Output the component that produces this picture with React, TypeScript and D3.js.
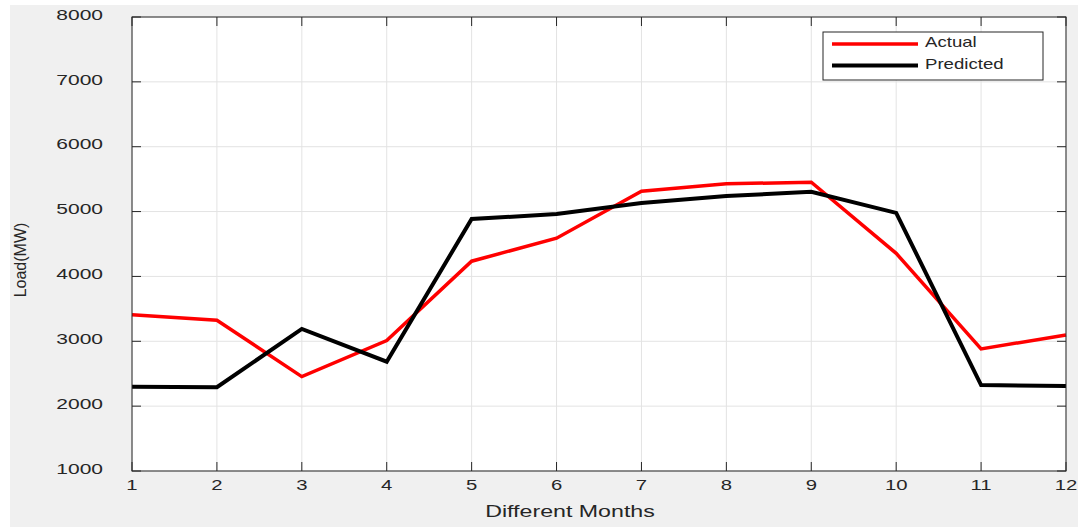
import React from "react";
import * as d3 from "d3";

const months = [1, 2, 3, 4, 5, 6, 7, 8, 9, 10, 11, 12];
const actual = [3410, 3325, 2455, 3012, 4235, 4590, 5315, 5428, 5452, 4356, 2882, 3098];
const predicted = [2300, 2292, 3190, 2685, 4885, 4962, 5132, 5240, 5305, 4980, 2325, 2310];
const yTicks = [1000, 2000, 3000, 4000, 5000, 6000, 7000, 8000];
const seriesNames = ["Actual", "Predicted"];
const seriesColors = ["#ff0000", "#000000"];

const font = "'Liberation Sans', Arial, Helvetica, sans-serif";
const txt = "#262626";

function SText(props: { x: number; y: number; sx: number; size: number; anchor?: string; children: React.ReactNode }) {
  return (
    <text
      transform={`translate(${props.x},${props.y}) scale(${props.sx},1)`}
      fontFamily={font}
      fontSize={props.size}
      fill={txt}
      textAnchor={props.anchor || "start"}
      dominantBaseline="central"
    >
      {props.children}
    </text>
  );
}

export default function App() {
  const W = 1078, H = 527;
  const left = 132, right = 1066, top = 17, bottom = 471;
  const x = d3.scaleLinear().domain([1, 12]).range([left, right]);
  const y = d3.scaleLinear().domain([1000, 8000]).range([bottom, top]);
  const line = d3
    .line<number>()
    .x((_, i) => x(months[i]))
    .y((d) => y(d));
  const tl = 9;
  const series = [actual, predicted];
  const widths = [3.5, 4];
  return (
    <svg width={W} height={H} style={{ position: "absolute", left: 0, top: 0 }}>
      <rect x={0} y={0} width={W} height={H} fill="#ffffff" />
      <rect x={10} y={5} width={W - 10} height={H - 5} fill="#f0f0f0" />
      <rect x={left} y={top} width={right - left} height={bottom - top} fill="#ffffff" />
      {months.map((m) => (
        <line key={"gx" + m} x1={x(m)} x2={x(m)} y1={top} y2={bottom} stroke="#e3e3e3" strokeWidth={1} />
      ))}
      {yTicks.map((t) => (
        <line key={"gy" + t} x1={left} x2={right} y1={y(t)} y2={y(t)} stroke="#e3e3e3" strokeWidth={1} />
      ))}
      {series.map((s, i) => (
        <path key={"s" + i} d={line(s) || ""} fill="none" stroke={seriesColors[i]} strokeWidth={widths[i]} strokeLinejoin="miter" />
      ))}
      <rect x={left} y={top} width={right - left} height={bottom - top} fill="none" stroke="#262626" strokeWidth={1} />
      {months.map((m) => (
        <g key={"tx" + m}>
          <line x1={x(m)} x2={x(m)} y1={bottom} y2={bottom - tl} stroke="#262626" />
          <line x1={x(m)} x2={x(m)} y1={top} y2={top + tl} stroke="#262626" />
          <SText x={x(m)} y={485} sx={1.45} size={14} anchor="middle">
            {m}
          </SText>
        </g>
      ))}
      {yTicks.map((t) => (
        <g key={"ty" + t}>
          <line x1={left} x2={left + tl} y1={y(t)} y2={y(t)} stroke="#262626" />
          <line x1={right} x2={right - tl} y1={y(t)} y2={y(t)} stroke="#262626" />
          <SText x={103} y={y(t) - 2} sx={1.5} size={14} anchor="end">
            {t}
          </SText>
        </g>
      ))}
      <SText x={570} y={511} sx={1.45} size={16} anchor="middle">
        Different Months
      </SText>
      <text
        transform={`translate(20,260) rotate(-90)`}
        fontFamily={font}
        fontSize={16}
        fill={txt}
        textAnchor="middle"
        dominantBaseline="central"
      >
        Load(MW)
      </text>
      <rect x={823} y={32} width={220} height={48} fill="#ffffff" stroke="#262626" strokeWidth={1} />
      {seriesNames.map((n, i) => (
        <g key={"lg" + i}>
          <line x1={832} x2={918} y1={44 + i * 21.5} y2={44 + i * 21.5} stroke={seriesColors[i]} strokeWidth={widths[i]} />
          <SText x={925} y={42 + i * 21.5} sx={1.33} size={14}>
            {n}
          </SText>
        </g>
      ))}
    </svg>
  );
}
